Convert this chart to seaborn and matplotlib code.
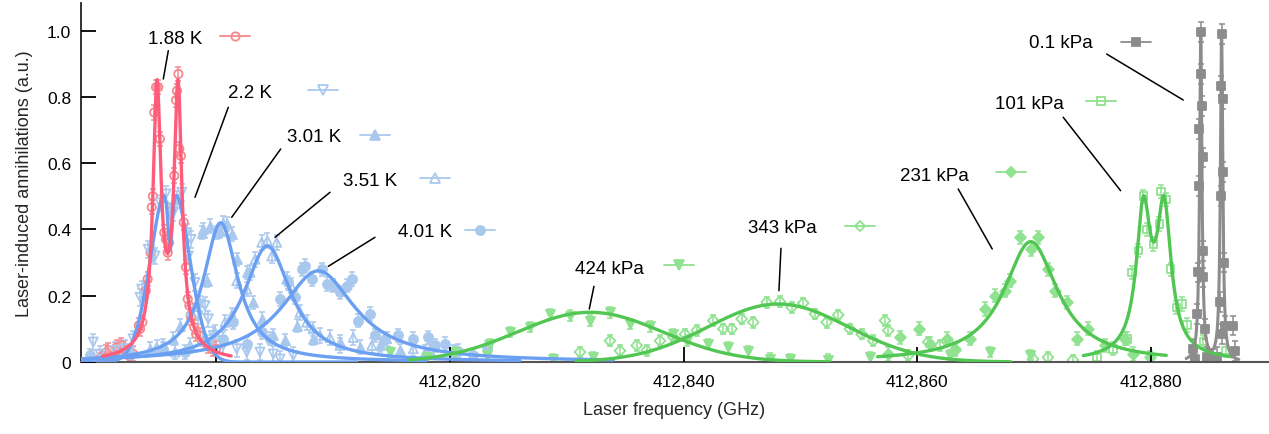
import numpy as np
import pandas as pd
import matplotlib
matplotlib.use("Agg")
import matplotlib.pyplot as plt
from matplotlib.ticker import FuncFormatter, FixedLocator
import seaborn as sns

# ---------------- data ----------------
labels = ["1.88 K", "2.2 K", "3.01 K", "3.51 K", "4.01 K",
          "424 kPa", "343 kPa", "231 kPa", "101 kPa", "0.1 kPa"]

x_188 = [412790.16, 412790.6, 412790.8, 412791.2, 412791.5, 412791.9, 412792.1, 412792.6, 412792.9,
         412793.4, 412793.5, 412793.7, 412794.0, 412794.15, 412794.4, 412794.5, 412794.6, 412794.72,
         412794.87, 412795.06, 412795.2, 412795.58, 412795.72, 412795.87, 412795.98, 412796.15,
         412796.43, 412796.58, 412796.66, 412796.78, 412796.86, 412797.0, 412797.24, 412797.43,
         412797.58, 412797.72, 412797.86, 412798.14, 412798.3, 412798.63, 412799.29, 412799.72, 412800.0]
y_188 = [0.015, 0.029, 0.035, 0.02, 0.045, 0.05, 0.04, 0.018, 0.025,
         0.11, 0.10, 0.12, 0.215, 0.25, 0.33, 0.467, 0.50, 0.753,
         0.829, 0.829, 0.673, 0.39, 0.37, 0.33, 0.36, 0.456,
         0.562, 0.79, 0.818, 0.869, 0.643, 0.622, 0.421, 0.286,
         0.19, 0.17, 0.135, 0.105, 0.084, 0.08, 0.049, 0.039, 0.04]

x_22 = [412789.5, 412790.08, 412791.36, 412792.22, 412792.9, 412793.5, 412793.64, 412794.21, 412794.5,
        412794.78, 412795.21, 412795.72, 412796.07, 412796.35, 412796.69, 412797.07, 412797.49,
        412797.63, 412797.86, 412798.2, 412798.43, 412798.63, 412799.06, 412799.34, 412799.77,
        412800.62, 412801.77, 412802.63, 412803.76, 412804.9, 412805.47, 412806.61]
y_22 = [0.06, 0.024, 0.035, 0.04, 0.07, 0.195, 0.22, 0.34, 0.326,
        0.32, 0.48, 0.507, 0.456, 0.451, 0.49, 0.512, 0.39,
        0.32, 0.37, 0.24, 0.14, 0.175, 0.17, 0.13, 0.08,
        0.05, 0.04, 0.03, 0.03, 0.024, 0.009, 0.019]

x_301 = [412792.64, 412794.35, 412795.47, 412796.35, 412796.92, 412797.78, 412798.35, 412798.78,
         412798.91, 412799.2, 412799.49, 412800.06, 412800.34, 412800.62, 412800.92, 412801.34,
         412801.77, 412802.63, 412803.19, 412803.91, 412804.9, 412805.9, 412806.9, 412808.32,
         412810.6, 412812.3, 412814.0, 412815.7, 412817.9]
y_301 = [0.035, 0.04, 0.05, 0.07, 0.11, 0.155, 0.18, 0.39,
         0.40, 0.245, 0.41, 0.39, 0.396, 0.42, 0.416, 0.386,
         0.31, 0.27, 0.18, 0.13, 0.08, 0.065, 0.11, 0.07,
         0.06, 0.045, 0.05, 0.035, 0.03]

x_351 = [412794.93, 412796.5, 412797.78, 412798.91, 412799.91, 412800.77, 412801.34, 412801.77,
         412802.63, 412802.91, 412803.34, 412803.91, 412804.39, 412804.77, 412805.19, 412806.05,
         412806.42, 412807.19, 412807.76, 412808.3, 412808.9, 412809.75, 412810.6, 412811.74,
         412813.32, 412814.6, 412816.88, 412818.3, 412820.4]
y_351 = [0.044, 0.03, 0.05, 0.07, 0.09, 0.12, 0.14, 0.245,
         0.22, 0.27, 0.31, 0.361, 0.366, 0.32, 0.361, 0.25,
         0.23, 0.15, 0.12, 0.10, 0.08, 0.074, 0.05, 0.074,
         0.05, 0.07, 0.04, 0.035, 0.03]

x_401 = [412789.22, 412792.64, 412795.49, 412797.35, 412799.2, 412800.62, 412801.48, 412802.63,
         412803.93, 412804.62, 412805.47, 412806.18, 412806.76, 412807.33, 412807.61, 412808.19,
         412809.04, 412809.47, 412810.03, 412810.6, 412811.18, 412811.61, 412812.17, 412813.17,
         412813.6, 412814.46, 412815.59, 412816.88, 412818.16, 412818.73, 412819.59, 412820.73,
         412822.01, 412823.16]
y_401 = [0.02, 0.025, 0.04, 0.03, 0.06, 0.07, 0.12, 0.054,
         0.09, 0.07, 0.19, 0.24, 0.195, 0.28, 0.29, 0.25,
         0.28, 0.235, 0.23, 0.21, 0.23, 0.25, 0.125, 0.145,
         0.08, 0.07, 0.08, 0.07, 0.075, 0.05, 0.054, 0.034,
         0.02, 0.044]

x_424 = [412814.88, 412818.02, 412820.44, 412823.16, 412823.44, 412825.15, 412826.86, 412828.57,
         412828.85, 412830.28, 412831.99, 412832.27, 412833.7, 412835.42, 412837.13, 412839.12,
         412840.27, 412842.11, 412843.82, 412845.54, 412847.39, 412849.1, 412852.38, 412855.95,
         412862.79, 412866.21, 412869.63]
y_424 = [0.03, 0.014, 0.03, 0.02, 0.054, 0.09, 0.105, 0.145,
         0.009, 0.14, 0.125, 0.014, 0.15, 0.115, 0.108, 0.084,
         0.064, 0.054, 0.044, 0.032, 0.01, 0.009, 0.007, 0.014,
         0.02, 0.03, 0.02]

x_343 = [412831.14, 412833.7, 412834.56, 412835.99, 412836.84, 412837.98, 412839.12, 412840.12,
         412841.12, 412842.54, 412843.4, 412844.11, 412844.97, 412845.96, 412847.11, 412848.25,
         412849.25, 412850.24, 412851.24, 412852.24, 412853.23, 412854.23, 412855.24, 412856.23,
         412857.23, 412857.51, 412859.22, 412860.93, 412861.93, 412863.22, 412869.89, 412871.17,
         412873.31]
y_343 = [0.03, 0.064, 0.034, 0.05, 0.035, 0.064, 0.075, 0.084,
         0.095, 0.125, 0.10, 0.10, 0.13, 0.12, 0.18, 0.182,
         0.165, 0.178, 0.145, 0.12, 0.142, 0.10, 0.084, 0.064,
         0.125, 0.095, 0.02, 0.06, 0.05, 0.034, 0.009, 0.014,
         0.006]

x_231 = [412857.53, 412858.53, 412860.1, 412861.1, 412862.53, 412863.22, 412864.5, 412865.8,
         412866.65, 412867.51, 412867.94, 412868.79, 412869.71, 412870.36, 412871.21, 412871.79,
         412872.79, 412873.64, 412874.64, 412876.07, 412877.78, 412878.49, 412879.91]
y_231 = [0.024, 0.074, 0.10, 0.054, 0.07, 0.039, 0.07, 0.16,
         0.20, 0.215, 0.245, 0.376, 0.341, 0.376, 0.28, 0.215,
         0.18, 0.07, 0.10, 0.05, 0.07, 0.024, 0.014]

x_101 = [412875.35, 412876.75, 412877.92, 412878.35, 412878.91, 412879.34, 412879.63, 412880.2,
         412880.71, 412880.86, 412881.28, 412881.67, 412882.16, 412882.63, 412883.05, 412884.47,
         412886.4]
y_101 = [0.014, 0.04, 0.07, 0.27, 0.336, 0.50, 0.40, 0.356,
         0.416, 0.514, 0.49, 0.28, 0.164, 0.175, 0.112, 0.062,
         0.035]

x_01 = [412883.62, 412883.76, 412883.96, 412884.02, 412884.13, 412884.13, 412884.25, 412884.28,
        412884.34, 412884.42, 412884.42, 412884.47, 412884.6, 412884.75, 412884.88, 412885.33,
        412885.62, 412885.91, 412885.94, 412885.98, 412886.03, 412886.09, 412886.11, 412886.15,
        412886.2, 412886.33, 412887.04, 412887.18]
y_01 = [0.039, 0.009, 0.145, 0.27, 0.703, 0.532, 0.995, 0.869,
        0.773, 0.617, 0.336, 0.255, 0.10, 0.014, 0.01, 0.009,
        0.014, 0.18, 0.50, 0.834, 0.99, 0.084, 0.572, 0.793,
        0.30, 0.11, 0.11, 0.034]

# one-sigma error per series (a.u.)
errors = [0.022, 0.025, 0.02, 0.022, 0.02, 0.016, 0.016, 0.02, 0.02, 0.03]

# fitted line-profile parameters: (shape, centre GHz, width GHz, amplitude)
fit_188 = [("L", 412794.95, 0.40, 0.75), ("L", 412796.75, 0.40, 0.75), ("L", 412795.85, 2.0, 0.08)]
fit_22 = [("G", 412796.07, 1.53, 0.58), ("L", 412796.07, 0.25, -0.244)]
fit_301 = [("L", 412800.4, 1.8, 0.42)]
fit_351 = [("L", 412804.4, 2.45, 0.35)]
fit_401 = [("L", 412808.75, 3.85, 0.275)]
fit_424 = [("G", 412832.0, 6.2, 0.15)]
fit_343 = [("G", 412848.1, 6.0, 0.175)]
fit_231 = [("L", 412869.7, 2.8, 0.363)]
fit_101 = [("L", 412879.34, 0.72, 0.41), ("L", 412881.11, 0.72, 0.41), ("L", 412880.22, 3.0, 0.035)]
fit_01 = [("L", 412884.25, 0.12, 0.99), ("L", 412886.03, 0.12, 0.99)]
fit_ranges = [(412790.3, 412801.3), (412788.5, 412812.0), (412788.5, 412818.0), (412788.5, 412826.0),
              (412788.5, 412834.0), (412816.5, 412852.5), (412830.8, 412868.0), (412856.6, 412881.3),
              (412874.2, 412887.0), (412883.0, 412887.5)]

xs = [x_188, x_22, x_301, x_351, x_401, x_424, x_343, x_231, x_101, x_01]
ys = [y_188, y_22, y_301, y_351, y_401, y_424, y_343, y_231, y_101, y_01]
fits = [fit_188, fit_22, fit_301, fit_351, fit_401, fit_424, fit_343, fit_231, fit_101, fit_01]

# ---------------- styles ----------------
RED_L, RED_P = "#ff5c7c", "#f48a8e"
BLU_L, BLU_P = "#6a9ff2", "#a9c8ee"
GRN_L, GRN_P = "#52c653", "#8fe28f"
GRY_L, GRY_P = "#8c8c8c", "#8c8c8c"
line_cols = [RED_L, BLU_L, BLU_L, BLU_L, BLU_L, GRN_L, GRN_L, GRN_L, GRN_L, GRY_L]
pt_cols = [RED_P, BLU_P, BLU_P, BLU_P, BLU_P, GRN_P, GRN_P, GRN_P, GRN_P, GRY_P]
markers = ["o", "v", "^", "^", "o", "v", "D", "D", "s", "s"]
filled = [False, False, True, False, True, True, False, True, False, True]
msizes = [6, 6.5, 6.5, 6.5, 6.5, 6.5, 5.5, 5.5, 5.5, 5.5]


def profile(x, comps):
    out = np.zeros_like(x)
    for kind, c, w, a in comps:
        if kind == "L":
            out += a / (1 + ((x - c) / w) ** 2)
        else:
            out += a * np.exp(-0.5 * ((x - c) / w) ** 2)
    return out


sns.set_theme(style="ticks")
plt.rcParams["font.family"] = ["Liberation Sans", "DejaVu Sans"]

fig = plt.figure(figsize=(12.69, 4.35), dpi=100)
ax = fig.add_axes([81 / 1269, 72 / 435, 1187 / 1269, 359 / 435])

XMIN, XMAX = 412788.45, 412890.0
YMIN, YMAX = 0.0, 1.083

# data points with error bars
for i in range(len(labels)):
    mfc = pt_cols[i] if filled[i] else "none"
    ax.errorbar(xs[i], ys[i], yerr=errors[i], fmt="none", ecolor=pt_cols[i],
                elinewidth=1.1, capsize=2.5, capthick=1.1, zorder=2)
    sns.scatterplot(x=xs[i], y=ys[i], ax=ax, marker=markers[i], s=msizes[i] ** 2,
                    facecolor=mfc, edgecolor=pt_cols[i], linewidth=1.3, zorder=2.5, legend=False)

# fitted curves
for i in range(len(labels)):
    lo, hi = fit_ranges[i]
    n = 3000 if i == 9 else 600
    xf = np.linspace(lo, hi, n)
    df = pd.DataFrame({"x": xf, "y": profile(xf, fits[i])})
    z = 4 if i == 0 else 3
    sns.lineplot(data=df, x="x", y="y", ax=ax, color=line_cols[i],
                 linewidth=2.4 if i != 9 else 2.2, zorder=z, legend=False)


# annotation helpers: reference pixel position -> data coordinates
def P(px, py):
    return 412800 + (px - 216) / 11.69, (363 - py) / 331.5


label_pos = [(148, 39), (228, 93), (287, 137), (343, 181), (398, 232),
             (575, 269), (748, 228), (900, 176), (995, 104), (1029, 43)]
sample_pos = [(220, 250, 37), (308, 338, 91), (360, 390, 136), (420, 450, 179), (465, 495, 231),
              (664, 694, 266), (845, 875, 227), (996, 1026, 173), (1086, 1116, 102), (1121, 1151, 43)]
leaders = [((168.3, 51.7), (163.3, 80)), ((228.3, 108.3), (195, 198.3)),
           ((280.7, 150), (231.7, 218.3)), ((330, 193.3), (275, 238.3)),
           ((375, 238.3), (328.3, 267.3)), ((594, 287.3), (589.3, 310)),
           ((781, 249.3), (779, 291.7)), ((958.3, 190), (992.3, 250)),
           ((1063.3, 118.3), (1120.7, 191.7)), ((1106.7, 55), (1183.3, 101))]

for i, lab in enumerate(labels):
    tx, ty = P(*label_pos[i])
    ax.text(tx, ty, lab, fontsize=13.5, ha="left", va="center", color="black", zorder=6)
    x1, x2, sy = sample_pos[i]
    (ax1, ay), (ax2, _) = P(x1, sy), P(x2, sy)
    mfc = pt_cols[i] if filled[i] else "none"
    ax.plot([ax1, ax2], [ay, ay], color=pt_cols[i], lw=1.3, zorder=5)
    ax.plot([(ax1 + ax2) / 2], [ay], marker=markers[i], ms=msizes[i], mfc=mfc,
            mec=pt_cols[i], mew=1.3, zorder=5)
    (a, b), (c, d) = leaders[i]
    p1, p2 = P(a, b), P(c, d)
    ax.plot([p1[0], p2[0]], [p1[1], p2[1]], color="black", lw=1.1, zorder=6)

# axes styling
ax.set_xlim(XMIN, XMAX)
ax.set_ylim(YMIN, YMAX)
ax.xaxis.set_major_locator(FixedLocator([412800, 412820, 412840, 412860, 412880]))
ax.xaxis.set_major_formatter(FuncFormatter(lambda v, p: f"{v:,.0f}"))
ax.yaxis.set_major_locator(FixedLocator([0, 0.2, 0.4, 0.6, 0.8, 1.0]))
ax.yaxis.set_major_formatter(FuncFormatter(lambda v, p: "0" if abs(v) < 1e-9 else f"{v:.1f}"))
ax.tick_params(axis="both", direction="in", length=11, width=1.3, colors="black",
               labelsize=12.5)
ax.tick_params(axis="x", pad=9)
ax.tick_params(axis="y", pad=7)
for s in ["top", "right"]:
    ax.spines[s].set_visible(False)
ax.spines["left"].set_color("#222222")
ax.spines["bottom"].set_color("#555555")
ax.spines["left"].set_linewidth(1.3)
ax.spines["bottom"].set_linewidth(1.5)
ax.set_axisbelow(False)
for t in ax.xaxis.get_major_ticks() + ax.yaxis.get_major_ticks():
    t.tick1line.set_zorder(10)

ax.set_xlabel("Laser frequency (GHz)", fontsize=13, labelpad=8)
ax.set_ylabel("Laser-induced annihilations (a.u.)", fontsize=13, labelpad=10)
ax.set_facecolor("white")

fig.savefig("out.png", dpi=100, facecolor="white")
